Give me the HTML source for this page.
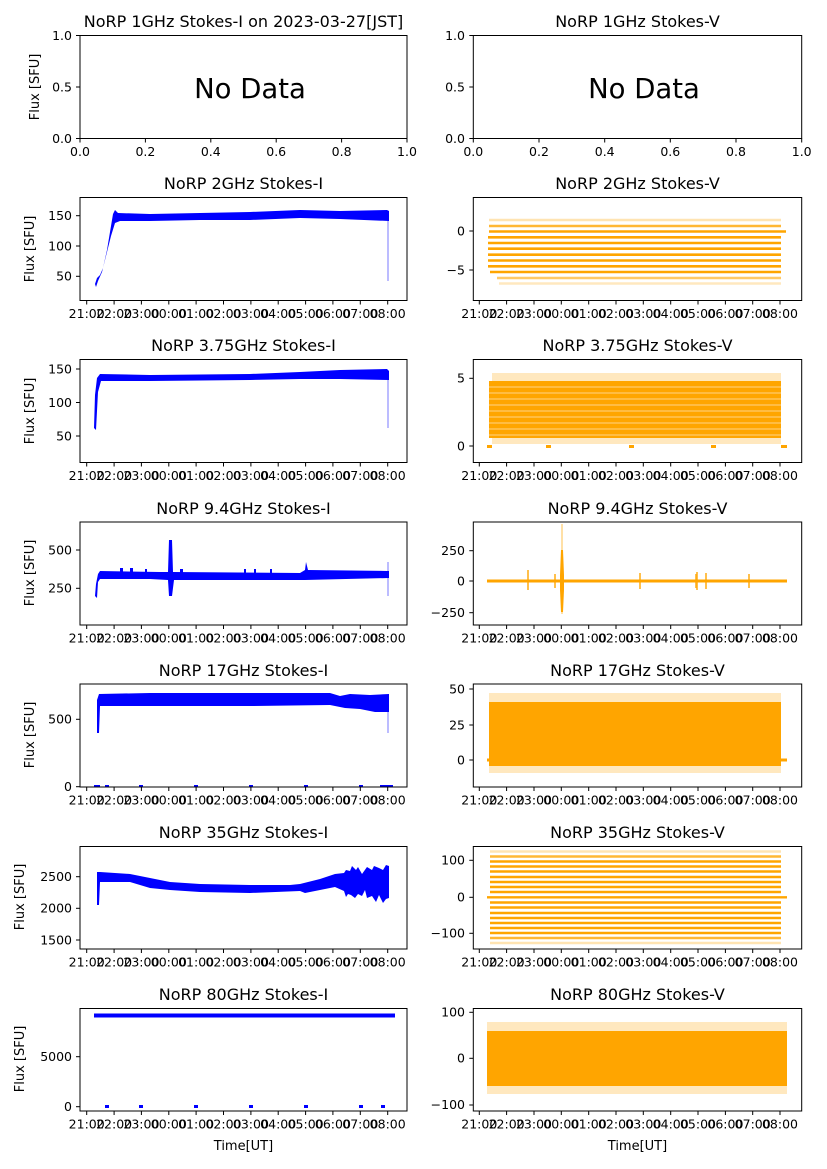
<!DOCTYPE html>
<html><head><meta charset="utf-8"><style>
html,body{margin:0;padding:0;background:#fff}
svg{display:block}
text{font-family:"DejaVu Sans","Liberation Sans",sans-serif;fill:#000}
.t{font-size:12.5px;text-anchor:middle}
.y{font-size:12.5px;text-anchor:end}
.h{font-size:16px;text-anchor:middle}
.l{font-size:13px;text-anchor:middle}
.nd{font-size:27.5px;text-anchor:middle}
.ax{fill:none;stroke:#000;stroke-width:1}
.tk{stroke:#000;stroke-width:1}
</style></head><body>
<svg width="827" height="1169" viewBox="0 0 827 1169" xmlns="http://www.w3.org/2000/svg">
<!-- ROW 1 -->
<text class="h" x="243.5" y="27">NoRP 1GHz Stokes-I on 2023-03-27[JST]</text>
<rect class="ax" x="80" y="35.5" width="327" height="103"/>
<text class="nd" x="250" y="98">No Data</text>
<g class="tk"><line x1="76" y1="35.5" x2="80" y2="35.5"/><line x1="76" y1="87" x2="80" y2="87"/><line x1="76" y1="138.5" x2="80" y2="138.5"/>
<line x1="80" y1="138.5" x2="80" y2="142.5"/><line x1="145.4" y1="138.5" x2="145.4" y2="142.5"/><line x1="210.8" y1="138.5" x2="210.8" y2="142.5"/><line x1="276.2" y1="138.5" x2="276.2" y2="142.5"/><line x1="341.6" y1="138.5" x2="341.6" y2="142.5"/><line x1="407" y1="138.5" x2="407" y2="142.5"/></g>
<text class="y" x="72" y="40">1.0</text><text class="y" x="72" y="91.5">0.5</text><text class="y" x="72" y="143">0.0</text>
<text class="t" x="80" y="156">0.0</text><text class="t" x="145.4" y="156">0.2</text><text class="t" x="210.8" y="156">0.4</text><text class="t" x="276.2" y="156">0.6</text><text class="t" x="341.6" y="156">0.8</text><text class="t" x="407" y="156">1.0</text>
<text class="l" transform="translate(39,87) rotate(-90)">Flux [SFU]</text>

<text class="h" x="637.5" y="27">NoRP 1GHz Stokes-V</text>
<rect class="ax" x="473.3" y="35.5" width="328.4" height="103"/>
<text class="nd" x="644" y="98">No Data</text>
<g class="tk"><line x1="469.3" y1="35.5" x2="473.3" y2="35.5"/><line x1="469.3" y1="87" x2="473.3" y2="87"/><line x1="469.3" y1="138.5" x2="473.3" y2="138.5"/>
<line x1="473.3" y1="138.5" x2="473.3" y2="142.5"/><line x1="539" y1="138.5" x2="539" y2="142.5"/><line x1="604.7" y1="138.5" x2="604.7" y2="142.5"/><line x1="670.3" y1="138.5" x2="670.3" y2="142.5"/><line x1="736" y1="138.5" x2="736" y2="142.5"/><line x1="801.7" y1="138.5" x2="801.7" y2="142.5"/></g>
<text class="y" x="465" y="40">1.0</text><text class="y" x="465" y="91.5">0.5</text><text class="y" x="465" y="143">0.0</text>
<text class="t" x="473.3" y="156">0.0</text><text class="t" x="539" y="156">0.2</text><text class="t" x="604.7" y="156">0.4</text><text class="t" x="670.3" y="156">0.6</text><text class="t" x="736" y="156">0.8</text><text class="t" x="801.7" y="156">1.0</text>

<!-- ROW 2 -->
<text class="h" x="243.5" y="189">NoRP 2GHz Stokes-I</text>
<polygon fill="#0000ff" points="95,284 97,278 100,275 103,268 107,250 110,232 113,214 115,210 118,213 150,214 200,213 250,212 300,210 340,211 387,210 389,211 389,221 340,219 300,218 250,220 200,220 150,221 120,221 115,223 111,236 106,256 102,272 98,281 96,287"/>
<line x1="388" y1="220" x2="388" y2="281" stroke="#0000ff" stroke-opacity="0.35" stroke-width="1.5"/>
<rect class="ax" x="80" y="197.5" width="327" height="103"/>
<g class="tk"><line x1="76" y1="215.7" x2="80" y2="215.7"/><line x1="76" y1="246" x2="80" y2="246"/><line x1="76" y1="276.3" x2="80" y2="276.3"/></g>
<text class="y" x="72" y="220">150</text><text class="y" x="72" y="250.5">100</text><text class="y" x="72" y="280.5">50</text>
<text class="l" transform="translate(34,249) rotate(-90)">Flux [SFU]</text>

<text class="h" x="637.5" y="189">NoRP 2GHz Stokes-V</text>
<g stroke="#ffa500" stroke-width="2.6">
<line x1="489" y1="220" x2="781" y2="220" stroke-opacity="0.3"/>
<line x1="489" y1="226" x2="781" y2="226" stroke-opacity="0.8"/>
<line x1="489" y1="231.5" x2="786" y2="231.5"/>
<line x1="488" y1="237.3" x2="781" y2="237.3"/>
<line x1="488" y1="243" x2="781" y2="243"/>
<line x1="488" y1="248.7" x2="781" y2="248.7"/>
<line x1="488" y1="254.7" x2="781" y2="254.7"/>
<line x1="488" y1="260.5" x2="781" y2="260.5"/>
<line x1="488" y1="266.3" x2="781" y2="266.3"/>
<line x1="490" y1="272" x2="781" y2="272"/>
<line x1="497" y1="278" x2="781" y2="278" stroke-opacity="0.6"/>
<line x1="499" y1="283.5" x2="781" y2="283.5" stroke-opacity="0.25"/>
</g>
<rect class="ax" x="473.3" y="197.5" width="328.4" height="103"/>
<g class="tk"><line x1="469.3" y1="231" x2="473.3" y2="231"/><line x1="469.3" y1="270" x2="473.3" y2="270"/></g>
<text class="y" x="465" y="235.5">0</text><text class="y" x="465" y="274.5">−5</text>

<!-- ROW 3 -->
<text class="h" x="243.5" y="351">NoRP 3.75GHz Stokes-I</text>
<polygon fill="#0000ff" points="94,428 95,395 97,378 100,374 150,375 250,374 300,372 340,370 387,369 389,371 389,380 340,379 300,379 250,380 150,381 101,381 98,392 96,430"/>
<line x1="388" y1="380" x2="388" y2="428" stroke="#0000ff" stroke-opacity="0.35" stroke-width="1.5"/>
<rect class="ax" x="80" y="359.5" width="327" height="103"/>
<g class="tk"><line x1="76" y1="369" x2="80" y2="369"/><line x1="76" y1="402.5" x2="80" y2="402.5"/><line x1="76" y1="436" x2="80" y2="436"/></g>
<text class="y" x="72" y="373.5">150</text><text class="y" x="72" y="407">100</text><text class="y" x="72" y="440.5">50</text>
<text class="l" transform="translate(34,411) rotate(-90)">Flux [SFU]</text>

<text class="h" x="637.5" y="351">NoRP 3.75GHz Stokes-V</text>
<rect x="492" y="373" width="289" height="71" fill="#ffa500" fill-opacity="0.25"/>
<rect x="489" y="381" width="292" height="57" fill="#ffa500"/>
<g stroke="#fff" stroke-width="0.8" stroke-opacity="0.7">
<line x1="489" y1="387" x2="781" y2="387"/><line x1="489" y1="393" x2="781" y2="393"/><line x1="489" y1="399" x2="781" y2="399"/><line x1="489" y1="405" x2="781" y2="405"/><line x1="489" y1="411" x2="781" y2="411"/><line x1="489" y1="417" x2="781" y2="417"/><line x1="489" y1="423" x2="781" y2="423"/><line x1="489" y1="429" x2="781" y2="429"/><line x1="489" y1="435" x2="781" y2="435"/>
</g>
<g fill="#ffa500"><rect x="487" y="445" width="5" height="3"/><rect x="546" y="445" width="5" height="3"/><rect x="629" y="445" width="5" height="3"/><rect x="711" y="445" width="5" height="3"/><rect x="781" y="445" width="6" height="3"/></g>
<rect class="ax" x="473.3" y="359.5" width="328.4" height="103"/>
<g class="tk"><line x1="469.3" y1="378.3" x2="473.3" y2="378.3"/><line x1="469.3" y1="446" x2="473.3" y2="446"/></g>
<text class="y" x="465" y="382.5">5</text><text class="y" x="465" y="450.5">0</text>

<!-- ROW 4 -->
<text class="h" x="243.5" y="514">NoRP 9.4GHz Stokes-I</text>
<polygon fill="#0000ff" points="95,596 96,584 98,574 100,571 160,572 168,572 169,540 172,540 173,572 300,573 305,570 306,562 308,570 387,571 389,571 389,578 305,580 174,580 172,596 169,596 168,580 150,579 100,579 98,582 97,598"/>
<g fill="#0000ff"><rect x="120" y="568" width="3" height="5"/><rect x="130" y="568" width="3" height="5"/><rect x="145" y="569" width="2" height="4"/><rect x="180" y="569" width="3" height="4"/><rect x="244" y="569" width="2" height="4"/><rect x="254" y="569" width="2" height="4"/><rect x="270" y="569" width="2" height="4"/></g>
<line x1="388" y1="562" x2="388" y2="596" stroke="#0000ff" stroke-opacity="0.35" stroke-width="1.5"/>
<rect class="ax" x="80" y="522" width="327" height="103"/>
<g class="tk"><line x1="76" y1="550" x2="80" y2="550"/><line x1="76" y1="588.3" x2="80" y2="588.3"/></g>
<text class="y" x="72" y="554.5">500</text><text class="y" x="72" y="592.5">250</text>
<text class="l" transform="translate(34,573) rotate(-90)">Flux [SFU]</text>

<text class="h" x="637.5" y="514">NoRP 9.4GHz Stokes-V</text>
<rect x="487" y="579.5" width="300" height="3" fill="#ffa500"/>
<polygon fill="#ffa500" points="561,550 563,550 564,575 564,590 563,612 561,612 560,590 560,575"/>
<line x1="562" y1="524" x2="562" y2="614" stroke="#ffa500" stroke-opacity="0.35" stroke-width="2"/>
<g fill="#ffa500" fill-opacity="0.7"><rect x="527" y="570" width="2" height="20"/><rect x="554" y="574" width="2" height="14"/><rect x="639" y="573" width="2" height="16"/><rect x="695" y="574" width="2" height="14"/><rect x="696" y="572" width="2" height="18"/><rect x="705" y="573" width="2" height="16"/><rect x="748" y="574" width="2" height="14"/></g>
<rect class="ax" x="473.3" y="522" width="328.4" height="103"/>
<g class="tk"><line x1="469.3" y1="550.7" x2="473.3" y2="550.7"/><line x1="469.3" y1="581" x2="473.3" y2="581"/><line x1="469.3" y1="612.7" x2="473.3" y2="612.7"/></g>
<text class="y" x="465" y="555">250</text><text class="y" x="465" y="585.5">0</text><text class="y" x="465" y="617">−250</text>

<!-- ROW 5 -->
<text class="h" x="243.5" y="676">NoRP 17GHz Stokes-I</text>
<polygon fill="#0000ff" points="97,733 97,700 99,694 150,693 250,693 330,693 340,696 350,694 370,695 389,694 389,712 375,712 360,709 345,708 330,705 250,706 150,706 100,706 99,733"/>
<line x1="388" y1="706" x2="388" y2="733" stroke="#0000ff" stroke-opacity="0.35" stroke-width="1.5"/>
<g fill="#0000ff"><rect x="94" y="785" width="6" height="2"/><rect x="105" y="785" width="4" height="2"/><rect x="139" y="785" width="4" height="2"/><rect x="194" y="785" width="4" height="2"/><rect x="249" y="785" width="4" height="2"/><rect x="304" y="785" width="4" height="2"/><rect x="359" y="785" width="4" height="2"/><rect x="380" y="785" width="13" height="2"/></g>
<rect class="ax" x="80" y="684" width="327" height="103"/>
<g class="tk"><line x1="76" y1="719.3" x2="80" y2="719.3"/><line x1="76" y1="786.7" x2="80" y2="786.7"/></g>
<text class="y" x="72" y="723.5">500</text><text class="y" x="72" y="791">0</text>
<text class="l" transform="translate(34,735) rotate(-90)">Flux [SFU]</text>

<text class="h" x="637.5" y="676">NoRP 17GHz Stokes-V</text>
<rect x="489" y="693" width="292" height="80" fill="#ffa500" fill-opacity="0.25"/>
<rect x="489" y="702" width="292" height="64" fill="#ffa500"/>
<rect x="487" y="758.5" width="300" height="3" fill="#ffa500"/>
<rect class="ax" x="473.3" y="684" width="328.4" height="103"/>
<g class="tk"><line x1="469.3" y1="689" x2="473.3" y2="689"/><line x1="469.3" y1="725" x2="473.3" y2="725"/><line x1="469.3" y1="760" x2="473.3" y2="760"/></g>
<text class="y" x="465" y="693.5">50</text><text class="y" x="465" y="729.5">25</text><text class="y" x="465" y="764.5">0</text>

<!-- ROW 6 -->
<text class="h" x="243.5" y="838">NoRP 35GHz Stokes-I</text>
<polygon fill="#0000ff" points="97,905 97,872 100,872 130,874 150,878 170,882 200,884 250,885 290,885 300,884 320,879 335,874 344,873 346,870 350,871 352,866 356,870 358,867 362,874 367,867 372,870 374,866 379,868 383,870 386,865 389,866 389,898 386,899 383,903 379,895 376,902 372,896 367,898 365,890 362,896 358,894 355,898 351,895 348,894 346,897 344,891 335,887 320,890 305,893 300,891 250,893 200,892 170,890 150,888 130,882 100,882 99,905"/>
<rect class="ax" x="80" y="846.5" width="327" height="102.5"/>
<g class="tk"><line x1="76" y1="876.7" x2="80" y2="876.7"/><line x1="76" y1="908.3" x2="80" y2="908.3"/><line x1="76" y1="940" x2="80" y2="940"/></g>
<text class="y" x="72" y="881">2500</text><text class="y" x="72" y="912.5">2000</text><text class="y" x="72" y="944.5">1500</text>
<text class="l" transform="translate(24,897) rotate(-90)">Flux [SFU]</text>

<text class="h" x="637.5" y="838">NoRP 35GHz Stokes-V</text>
<g stroke="#ffa500" stroke-width="2.4">
<line x1="490" y1="851.5" x2="781" y2="851.5" stroke-opacity="0.3"/>
<line x1="490" y1="856.5" x2="781" y2="856.5" stroke-opacity="0.8"/>
<line x1="490" y1="861.5" x2="781" y2="861.5"/><line x1="490" y1="866.5" x2="781" y2="866.5"/><line x1="490" y1="871.5" x2="781" y2="871.5"/><line x1="490" y1="877" x2="781" y2="877"/><line x1="490" y1="882" x2="781" y2="882"/><line x1="490" y1="887" x2="781" y2="887"/><line x1="490" y1="892" x2="781" y2="892"/>
<line x1="487" y1="897.3" x2="787" y2="897.3"/>
<line x1="490" y1="902.5" x2="781" y2="902.5"/><line x1="490" y1="907.5" x2="781" y2="907.5"/><line x1="490" y1="913" x2="781" y2="913"/><line x1="490" y1="918" x2="781" y2="918"/><line x1="490" y1="923" x2="781" y2="923"/><line x1="490" y1="928" x2="781" y2="928"/><line x1="490" y1="933" x2="781" y2="933"/>
<line x1="490" y1="938" x2="781" y2="938" stroke-opacity="0.8"/>
<line x1="490" y1="943" x2="781" y2="943" stroke-opacity="0.3"/>
</g>
<rect class="ax" x="473.3" y="846.5" width="328.4" height="102.5"/>
<g class="tk"><line x1="469.3" y1="860.3" x2="473.3" y2="860.3"/><line x1="469.3" y1="897.3" x2="473.3" y2="897.3"/><line x1="469.3" y1="933.3" x2="473.3" y2="933.3"/></g>
<text class="y" x="465" y="864.5">100</text><text class="y" x="465" y="901.5">0</text><text class="y" x="465" y="937.5">−100</text>

<!-- ROW 7 -->
<text class="h" x="243.5" y="1000">NoRP 80GHz Stokes-I</text>
<rect x="94" y="1013.5" width="301" height="4" fill="#0000ff"/>
<g fill="#0000ff"><rect x="105" y="1105" width="4" height="3"/><rect x="139" y="1105" width="4" height="3"/><rect x="194" y="1105" width="4" height="3"/><rect x="249" y="1105" width="4" height="3"/><rect x="304" y="1105" width="4" height="3"/><rect x="359" y="1105" width="4" height="3"/><rect x="381" y="1105" width="4" height="3"/></g>
<rect class="ax" x="80" y="1008.5" width="327" height="102.5"/>
<g class="tk"><line x1="76" y1="1056.7" x2="80" y2="1056.7"/><line x1="76" y1="1106.7" x2="80" y2="1106.7"/></g>
<text class="y" x="72" y="1061">5000</text><text class="y" x="72" y="1111">0</text>
<text class="l" transform="translate(24,1059) rotate(-90)">Flux [SFU]</text>
<text class="l" x="243.5" y="1150">Time[UT]</text>

<text class="h" x="637.5" y="1000">NoRP 80GHz Stokes-V</text>
<rect x="487" y="1022" width="300" height="72" fill="#ffa500" fill-opacity="0.25"/>
<rect x="487" y="1031" width="300" height="55" fill="#ffa500"/>
<rect class="ax" x="473.3" y="1008.5" width="328.4" height="102.5"/>
<g class="tk"><line x1="469.3" y1="1012.3" x2="473.3" y2="1012.3"/><line x1="469.3" y1="1058.3" x2="473.3" y2="1058.3"/><line x1="469.3" y1="1105" x2="473.3" y2="1105"/></g>
<text class="y" x="465" y="1016.5">100</text><text class="y" x="465" y="1062.5">0</text><text class="y" x="465" y="1109">−100</text>
<text class="l" x="637.5" y="1150">Time[UT]</text>

<g class="tk">
<path d="M86.7 300.5v4M114.1 300.5v4M141.4 300.5v4M168.8 300.5v4M196.1 300.5v4M223.5 300.5v4M250.9 300.5v4M278.2 300.5v4M305.6 300.5v4M332.9 300.5v4M360.3 300.5v4M387.7 300.5v4
M86.7 462.5v4M114.1 462.5v4M141.4 462.5v4M168.8 462.5v4M196.1 462.5v4M223.5 462.5v4M250.9 462.5v4M278.2 462.5v4M305.6 462.5v4M332.9 462.5v4M360.3 462.5v4M387.7 462.5v4
M86.7 625v4M114.1 625v4M141.4 625v4M168.8 625v4M196.1 625v4M223.5 625v4M250.9 625v4M278.2 625v4M305.6 625v4M332.9 625v4M360.3 625v4M387.7 625v4
M86.7 787v4M114.1 787v4M141.4 787v4M168.8 787v4M196.1 787v4M223.5 787v4M250.9 787v4M278.2 787v4M305.6 787v4M332.9 787v4M360.3 787v4M387.7 787v4
M86.7 949v4M114.1 949v4M141.4 949v4M168.8 949v4M196.1 949v4M223.5 949v4M250.9 949v4M278.2 949v4M305.6 949v4M332.9 949v4M360.3 949v4M387.7 949v4
M86.7 1111v4M114.1 1111v4M141.4 1111v4M168.8 1111v4M196.1 1111v4M223.5 1111v4M250.9 1111v4M278.2 1111v4M305.6 1111v4M332.9 1111v4M360.3 1111v4M387.7 1111v4
M479.3 300.5v4M506.6 300.5v4M534 300.5v4M561.3 300.5v4M588.7 300.5v4M616 300.5v4M643.3 300.5v4M670.7 300.5v4M698 300.5v4M725.4 300.5v4M752.7 300.5v4M780 300.5v4
M479.3 462.5v4M506.6 462.5v4M534 462.5v4M561.3 462.5v4M588.7 462.5v4M616 462.5v4M643.3 462.5v4M670.7 462.5v4M698 462.5v4M725.4 462.5v4M752.7 462.5v4M780 462.5v4
M479.3 625v4M506.6 625v4M534 625v4M561.3 625v4M588.7 625v4M616 625v4M643.3 625v4M670.7 625v4M698 625v4M725.4 625v4M752.7 625v4M780 625v4
M479.3 787v4M506.6 787v4M534 787v4M561.3 787v4M588.7 787v4M616 787v4M643.3 787v4M670.7 787v4M698 787v4M725.4 787v4M752.7 787v4M780 787v4
M479.3 949v4M506.6 949v4M534 949v4M561.3 949v4M588.7 949v4M616 949v4M643.3 949v4M670.7 949v4M698 949v4M725.4 949v4M752.7 949v4M780 949v4
M479.3 1111v4M506.6 1111v4M534 1111v4M561.3 1111v4M588.7 1111v4M616 1111v4M643.3 1111v4M670.7 1111v4M698 1111v4M725.4 1111v4M752.7 1111v4M780 1111v4" fill="none"/>
</g>
<g>
<text class="t" x="86.7" y="318">21:00</text><text class="t" x="114.1" y="318">22:00</text><text class="t" x="141.4" y="318">23:00</text><text class="t" x="168.8" y="318">00:00</text><text class="t" x="196.1" y="318">01:00</text><text class="t" x="223.5" y="318">02:00</text><text class="t" x="250.9" y="318">03:00</text><text class="t" x="278.2" y="318">04:00</text><text class="t" x="305.6" y="318">05:00</text><text class="t" x="332.9" y="318">06:00</text><text class="t" x="360.3" y="318">07:00</text><text class="t" x="387.7" y="318">08:00</text>
<text class="t" x="86.7" y="480">21:00</text><text class="t" x="114.1" y="480">22:00</text><text class="t" x="141.4" y="480">23:00</text><text class="t" x="168.8" y="480">00:00</text><text class="t" x="196.1" y="480">01:00</text><text class="t" x="223.5" y="480">02:00</text><text class="t" x="250.9" y="480">03:00</text><text class="t" x="278.2" y="480">04:00</text><text class="t" x="305.6" y="480">05:00</text><text class="t" x="332.9" y="480">06:00</text><text class="t" x="360.3" y="480">07:00</text><text class="t" x="387.7" y="480">08:00</text>
<text class="t" x="86.7" y="642.5">21:00</text><text class="t" x="114.1" y="642.5">22:00</text><text class="t" x="141.4" y="642.5">23:00</text><text class="t" x="168.8" y="642.5">00:00</text><text class="t" x="196.1" y="642.5">01:00</text><text class="t" x="223.5" y="642.5">02:00</text><text class="t" x="250.9" y="642.5">03:00</text><text class="t" x="278.2" y="642.5">04:00</text><text class="t" x="305.6" y="642.5">05:00</text><text class="t" x="332.9" y="642.5">06:00</text><text class="t" x="360.3" y="642.5">07:00</text><text class="t" x="387.7" y="642.5">08:00</text>
<text class="t" x="86.7" y="804.5">21:00</text><text class="t" x="114.1" y="804.5">22:00</text><text class="t" x="141.4" y="804.5">23:00</text><text class="t" x="168.8" y="804.5">00:00</text><text class="t" x="196.1" y="804.5">01:00</text><text class="t" x="223.5" y="804.5">02:00</text><text class="t" x="250.9" y="804.5">03:00</text><text class="t" x="278.2" y="804.5">04:00</text><text class="t" x="305.6" y="804.5">05:00</text><text class="t" x="332.9" y="804.5">06:00</text><text class="t" x="360.3" y="804.5">07:00</text><text class="t" x="387.7" y="804.5">08:00</text>
<text class="t" x="86.7" y="966.5">21:00</text><text class="t" x="114.1" y="966.5">22:00</text><text class="t" x="141.4" y="966.5">23:00</text><text class="t" x="168.8" y="966.5">00:00</text><text class="t" x="196.1" y="966.5">01:00</text><text class="t" x="223.5" y="966.5">02:00</text><text class="t" x="250.9" y="966.5">03:00</text><text class="t" x="278.2" y="966.5">04:00</text><text class="t" x="305.6" y="966.5">05:00</text><text class="t" x="332.9" y="966.5">06:00</text><text class="t" x="360.3" y="966.5">07:00</text><text class="t" x="387.7" y="966.5">08:00</text>
<text class="t" x="86.7" y="1128.5">21:00</text><text class="t" x="114.1" y="1128.5">22:00</text><text class="t" x="141.4" y="1128.5">23:00</text><text class="t" x="168.8" y="1128.5">00:00</text><text class="t" x="196.1" y="1128.5">01:00</text><text class="t" x="223.5" y="1128.5">02:00</text><text class="t" x="250.9" y="1128.5">03:00</text><text class="t" x="278.2" y="1128.5">04:00</text><text class="t" x="305.6" y="1128.5">05:00</text><text class="t" x="332.9" y="1128.5">06:00</text><text class="t" x="360.3" y="1128.5">07:00</text><text class="t" x="387.7" y="1128.5">08:00</text>

<text class="t" x="479.3" y="318">21:00</text><text class="t" x="506.6" y="318">22:00</text><text class="t" x="534" y="318">23:00</text><text class="t" x="561.3" y="318">00:00</text><text class="t" x="588.7" y="318">01:00</text><text class="t" x="616" y="318">02:00</text><text class="t" x="643.3" y="318">03:00</text><text class="t" x="670.7" y="318">04:00</text><text class="t" x="698" y="318">05:00</text><text class="t" x="725.4" y="318">06:00</text><text class="t" x="752.7" y="318">07:00</text><text class="t" x="780" y="318">08:00</text>
<text class="t" x="479.3" y="480">21:00</text><text class="t" x="506.6" y="480">22:00</text><text class="t" x="534" y="480">23:00</text><text class="t" x="561.3" y="480">00:00</text><text class="t" x="588.7" y="480">01:00</text><text class="t" x="616" y="480">02:00</text><text class="t" x="643.3" y="480">03:00</text><text class="t" x="670.7" y="480">04:00</text><text class="t" x="698" y="480">05:00</text><text class="t" x="725.4" y="480">06:00</text><text class="t" x="752.7" y="480">07:00</text><text class="t" x="780" y="480">08:00</text>
<text class="t" x="479.3" y="642.5">21:00</text><text class="t" x="506.6" y="642.5">22:00</text><text class="t" x="534" y="642.5">23:00</text><text class="t" x="561.3" y="642.5">00:00</text><text class="t" x="588.7" y="642.5">01:00</text><text class="t" x="616" y="642.5">02:00</text><text class="t" x="643.3" y="642.5">03:00</text><text class="t" x="670.7" y="642.5">04:00</text><text class="t" x="698" y="642.5">05:00</text><text class="t" x="725.4" y="642.5">06:00</text><text class="t" x="752.7" y="642.5">07:00</text><text class="t" x="780" y="642.5">08:00</text>
<text class="t" x="479.3" y="804.5">21:00</text><text class="t" x="506.6" y="804.5">22:00</text><text class="t" x="534" y="804.5">23:00</text><text class="t" x="561.3" y="804.5">00:00</text><text class="t" x="588.7" y="804.5">01:00</text><text class="t" x="616" y="804.5">02:00</text><text class="t" x="643.3" y="804.5">03:00</text><text class="t" x="670.7" y="804.5">04:00</text><text class="t" x="698" y="804.5">05:00</text><text class="t" x="725.4" y="804.5">06:00</text><text class="t" x="752.7" y="804.5">07:00</text><text class="t" x="780" y="804.5">08:00</text>
<text class="t" x="479.3" y="966.5">21:00</text><text class="t" x="506.6" y="966.5">22:00</text><text class="t" x="534" y="966.5">23:00</text><text class="t" x="561.3" y="966.5">00:00</text><text class="t" x="588.7" y="966.5">01:00</text><text class="t" x="616" y="966.5">02:00</text><text class="t" x="643.3" y="966.5">03:00</text><text class="t" x="670.7" y="966.5">04:00</text><text class="t" x="698" y="966.5">05:00</text><text class="t" x="725.4" y="966.5">06:00</text><text class="t" x="752.7" y="966.5">07:00</text><text class="t" x="780" y="966.5">08:00</text>
<text class="t" x="479.3" y="1128.5">21:00</text><text class="t" x="506.6" y="1128.5">22:00</text><text class="t" x="534" y="1128.5">23:00</text><text class="t" x="561.3" y="1128.5">00:00</text><text class="t" x="588.7" y="1128.5">01:00</text><text class="t" x="616" y="1128.5">02:00</text><text class="t" x="643.3" y="1128.5">03:00</text><text class="t" x="670.7" y="1128.5">04:00</text><text class="t" x="698" y="1128.5">05:00</text><text class="t" x="725.4" y="1128.5">06:00</text><text class="t" x="752.7" y="1128.5">07:00</text><text class="t" x="780" y="1128.5">08:00</text>
</g>
</svg>
</body></html>
